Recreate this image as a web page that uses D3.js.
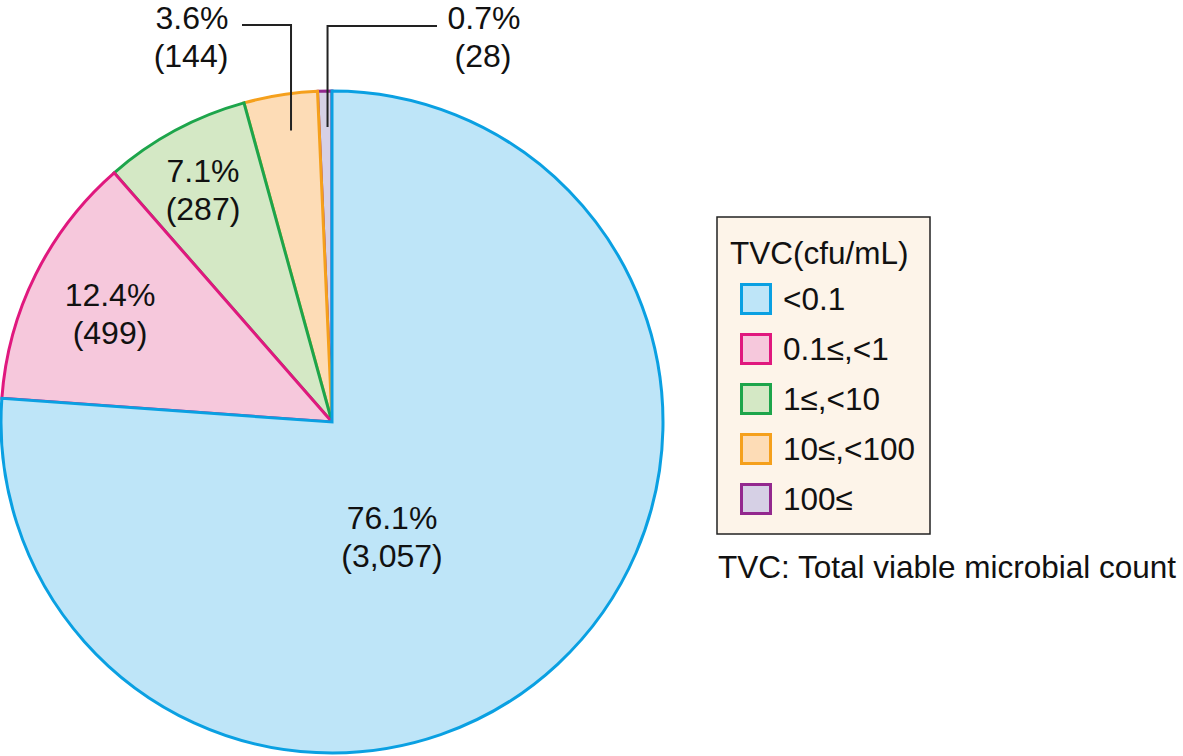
<!DOCTYPE html>
<html><head><meta charset="utf-8">
<script src="https://cdn.jsdelivr.net/npm/d3@7"></script>
<style>body{margin:0;background:#fff}svg{display:block}text{font-family:"Liberation Sans",Arial,sans-serif;fill:#111}</style>
</head><body>
<svg id="c" width="1183" height="756"></svg>
<script>
const categories = ["<0.1", "0.1≤,<1", "1≤,<10", "10≤,<100", "100≤"];
const counts = [3057, 499, 287, 144, 28];
const percents = ["76.1%", "12.4%", "7.1%", "3.6%", "0.7%"];
const countLabels = ["(3,057)", "(499)", "(287)", "(144)", "(28)"];
const strokeColors = ["#0aa0e2", "#e0187e", "#1da54b", "#f5a01c", "#93288e"];
const fillColors = ["#bee5f8", "#f6c8dc", "#d4e8c5", "#fddcb6", "#d6d0e5"];
const legendTitle = "TVC(cfu/mL)";
const footnote = "TVC: Total viable microbial count";

const svg = d3.select("#c");
const cx = 332, cy = 422, R = 331;
const data = categories.map((c, i) => ({c, v: counts[i], i}));
const pie = d3.pie().value(d => d.v).sort(null);
const arcs = pie(data);
const arc = d3.arc().innerRadius(0).outerRadius(R);
const g = svg.append("g").attr("transform", `translate(${cx},${cy})`);
g.selectAll("path").data(arcs.slice().reverse()).join("path")
  .attr("d", arc)
  .attr("fill", d => fillColors[d.data.i])
  .attr("stroke", d => strokeColors[d.data.i])
  .attr("stroke-width", 3)
  .attr("stroke-linejoin", "miter");

// inside labels
const inside = [
  {i:0, x:392, y:529},
  {i:1, x:110, y:306},
  {i:2, x:203, y:182}
];
const lab = svg.append("g").attr("font-size", 32).attr("text-anchor", "middle");
inside.forEach(o => {
  lab.append("text").attr("x", o.x).attr("y", o.y).text(percents[o.i]);
  lab.append("text").attr("x", o.x).attr("y", o.y + 38).text(countLabels[o.i]);
});

// outside labels with leader lines
const outside = [
  {i:3, lx:192, hx:242, yl:25},
  {i:4, lx:484, hx:437, yl:26}
];
const leaderR = 295;
outside.forEach(o => {
  const a = arcs[o.i];
  const mid = (a.startAngle + a.endAngle) / 2;
  let px = cx + leaderR * Math.sin(mid);
  const py = cy - leaderR * Math.cos(mid);
  if (o.i === 3) px += 5; else px += 2;
  svg.append("path")
    .attr("d", `M${px},${py}V${o.yl}H${o.hx}`)
    .attr("fill", "none").attr("stroke", "#222").attr("stroke-width", 2);
  lab.append("text").attr("x", o.lx).attr("y", 29).text(percents[o.i]);
  lab.append("text").attr("x", o.lx - 1).attr("y", 67).text(countLabels[o.i]);
});

// legend
const lg = svg.append("g");
lg.append("rect").attr("x", 717).attr("y", 217).attr("width", 213).attr("height", 317)
  .attr("fill", "#fdf4e9").attr("stroke", "#222").attr("stroke-width", 1.5);
lg.append("text").attr("x", 730).attr("y", 264).attr("font-size", 31.5).text(legendTitle);
const rowY = d3.scalePoint().domain(categories).range([283, 483]);
categories.forEach((c, i) => {
  const y = rowY(c);
  lg.append("rect").attr("x", 741.5).attr("y", y + 1.5).attr("width", 29).attr("height", 29)
    .attr("fill", fillColors[i]).attr("stroke", strokeColors[i]).attr("stroke-width", 3);
  lg.append("text").attr("x", 783).attr("y", y + 27).attr("font-size", 31.5).text(c);
});
svg.append("text").attr("x", 718).attr("y", 578).attr("font-size", 31.5).text(footnote);
</script>
</body></html>
